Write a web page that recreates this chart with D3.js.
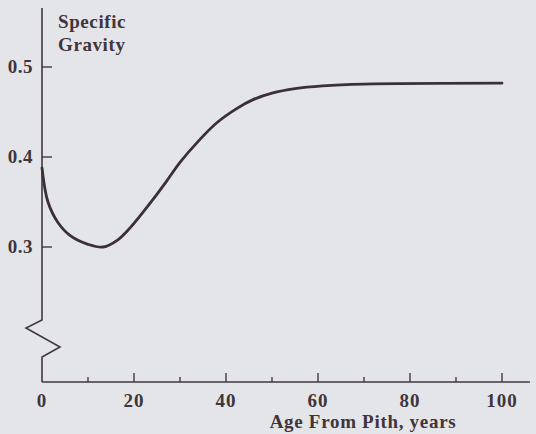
<!DOCTYPE html>
<html><head><meta charset="utf-8">
<script src="https://cdn.jsdelivr.net/npm/d3@7"></script>
<style>
html,body{margin:0;padding:0;background:#e4e5e8;}
svg{display:block;}
text{font-family:"Liberation Serif","Times New Roman",serif;font-weight:bold;fill:#3f353a;}
</style></head><body>
<svg id="c" width="536" height="434"></svg>
<script>
// Data
const age = [0, 1.3, 3.5, 6.3, 10, 13.3, 16.5, 19.1, 24, 27.2, 30, 33.7, 38, 42.4, 46, 50, 55, 61, 70, 100];
const specificGravity = [0.388, 0.350, 0.327, 0.312, 0.303, 0.300, 0.308, 0.321, 0.352, 0.374, 0.394, 0.416, 0.438, 0.454, 0.464, 0.471, 0.476, 0.479, 0.481, 0.482];
const xTickValues = [0, 20, 40, 60, 80, 100];
const xMinorTicks = [10, 30, 50, 70, 90];
const yTickValues = [0.3, 0.4, 0.5];
const xTitle = "Age From Pith, years";
const yTitle = ["Specific", "Gravity"];

const svg = d3.select("#c");
const ink = "#43383d";
const x = d3.scaleLinear().domain([0, 100]).range([42, 502]);
const y = d3.scaleLinear().domain([0.3, 0.5]).range([247, 67]);
const x0 = x(0), yBase = 382, yTop = 8;

// X axis
svg.append("line").attr("x1", x0).attr("x2", 530).attr("y1", yBase).attr("y2", yBase)
  .attr("stroke", ink).attr("stroke-width", 1.6);
svg.selectAll(".xt").data(xTickValues.slice(1)).enter().append("line")
  .attr("x1", d => x(d)).attr("x2", d => x(d)).attr("y1", yBase).attr("y2", yBase - 9)
  .attr("stroke", ink).attr("stroke-width", 1.4);
svg.selectAll(".xm").data(xMinorTicks).enter().append("line")
  .attr("x1", d => x(d)).attr("x2", d => x(d)).attr("y1", yBase).attr("y2", yBase - 5)
  .attr("stroke", ink).attr("stroke-width", 1.4);
svg.selectAll(".xl").data(xTickValues).enter().append("text")
  .attr("x", d => x(d)).attr("y", 407).attr("text-anchor", "middle")
  .attr("font-size", 19).attr("letter-spacing", 1).text(d => d);
svg.append("text").attr("x", 363).attr("y", 428).attr("text-anchor", "middle")
  .attr("font-size", 19).attr("letter-spacing", 0.7).text(xTitle);

// Y axis with break
const brk = d3.path();
brk.moveTo(x0, yTop);
brk.lineTo(x0, 320);
brk.lineTo(x0 - 16, 328);
brk.lineTo(x0 + 18, 347);
brk.lineTo(x0, 357);
brk.lineTo(x0, yBase);
svg.append("path").attr("d", brk.toString()).attr("fill", "none")
  .attr("stroke", ink).attr("stroke-width", 1.6).attr("stroke-linejoin", "miter");
svg.selectAll(".yt").data(yTickValues).enter().append("line")
  .attr("x1", x0).attr("x2", x0 + 10).attr("y1", d => y(d)).attr("y2", d => y(d))
  .attr("stroke", ink).attr("stroke-width", 1.4);
svg.selectAll(".yl").data(yTickValues).enter().append("text")
  .attr("x", 33).attr("y", d => y(d) + 6).attr("text-anchor", "end")
  .attr("font-size", 19).attr("letter-spacing", 0.5).text(d => d.toFixed(1));
svg.selectAll(".yti").data(yTitle).enter().append("text")
  .attr("x", 58).attr("y", (d, i) => 28 + i * 23)
  .attr("font-size", 19).attr("letter-spacing", 0.6).text(d => d);

// Curve
const line = d3.line().x((d, i) => x(age[i])).y(d => y(d)).curve(d3.curveCatmullRom.alpha(0.5));
svg.append("path").attr("d", line(specificGravity)).attr("fill", "none")
  .attr("stroke", "#3a3035").attr("stroke-width", 2.8).attr("stroke-linecap", "round");
</script>
</body></html>
